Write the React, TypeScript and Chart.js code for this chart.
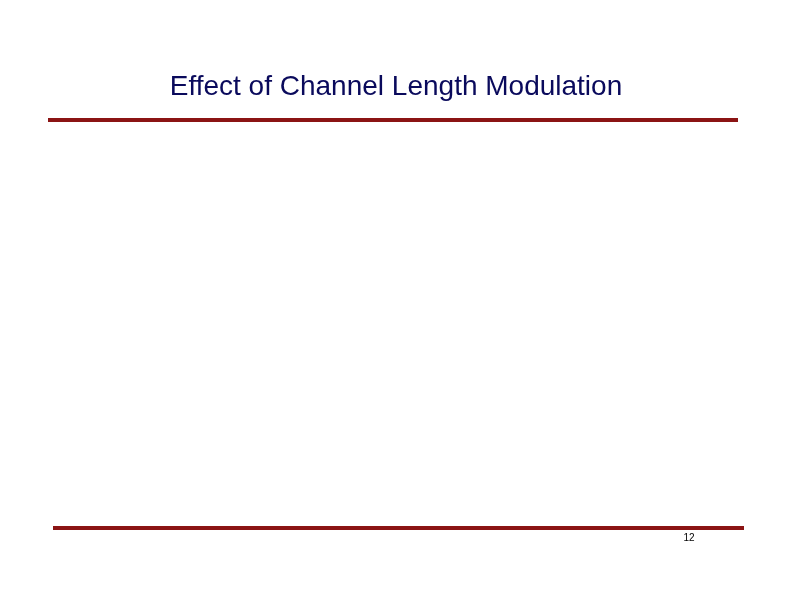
import { useEffect, useRef } from 'react'
import { Chart, registerables, type ChartConfiguration, type Plugin } from 'chart.js'
Chart.register(...registerables)

// the slide holds no plotted data: only the title, two rules and a page number
const categories: string[] = []
const values: number[] = []
const titleText = 'Effect of Channel Length Modulation'
const pageNumber = '12'

const RULE = '#8B1414'

const slideDecor: Plugin = {
  id: 'slideDecor',
  afterDraw(chart) {
    const ctx = chart.ctx
    ctx.save()
    ctx.fillStyle = RULE
    ctx.fillRect(48, 118, 690, 4)
    ctx.fillRect(53, 526, 691, 4)
    ctx.fillStyle = '#000'
    ctx.font = '10px "Liberation Sans", Arial, sans-serif'
    ctx.textAlign = 'center'
    ctx.textBaseline = 'middle'
    ctx.fillText(pageNumber, 689, 538)
    ctx.restore()
  },
}

export default function App() {
  const ref = useRef<HTMLCanvasElement>(null)
  const chartRef = useRef<Chart | null>(null)
  useEffect(() => {
    if (!ref.current) return
    document.body.style.margin = '0'
    chartRef.current?.destroy()
    const config: ChartConfiguration = {
      type: 'line',
      data: {
        labels: categories,
        datasets: [{ data: values, borderColor: RULE }],
      },
      options: {
        responsive: false,
        animation: false,
        layout: { padding: 0 },
        plugins: {
          legend: { display: false },
          tooltip: { enabled: false },
          title: {
            display: true,
            text: titleText,
            color: '#0A0A5C',
            font: { family: '"Liberation Sans", Arial, sans-serif', size: 28, weight: 'normal' },
            padding: { top: 70, bottom: 20 },
          },
        },
        scales: {
          x: { display: false },
          y: { display: false },
        },
      },
      plugins: [slideDecor],
    }
    chartRef.current = new Chart(ref.current, config)
    return () => chartRef.current?.destroy()
  }, [])
  return (
    <div style={{ position: 'relative', width: 792, height: 612, background: '#fff' }}>
      <canvas ref={ref} width={792} height={612} style={{ width: 792, height: 612, display: 'block' }} />
    </div>
  )
}
